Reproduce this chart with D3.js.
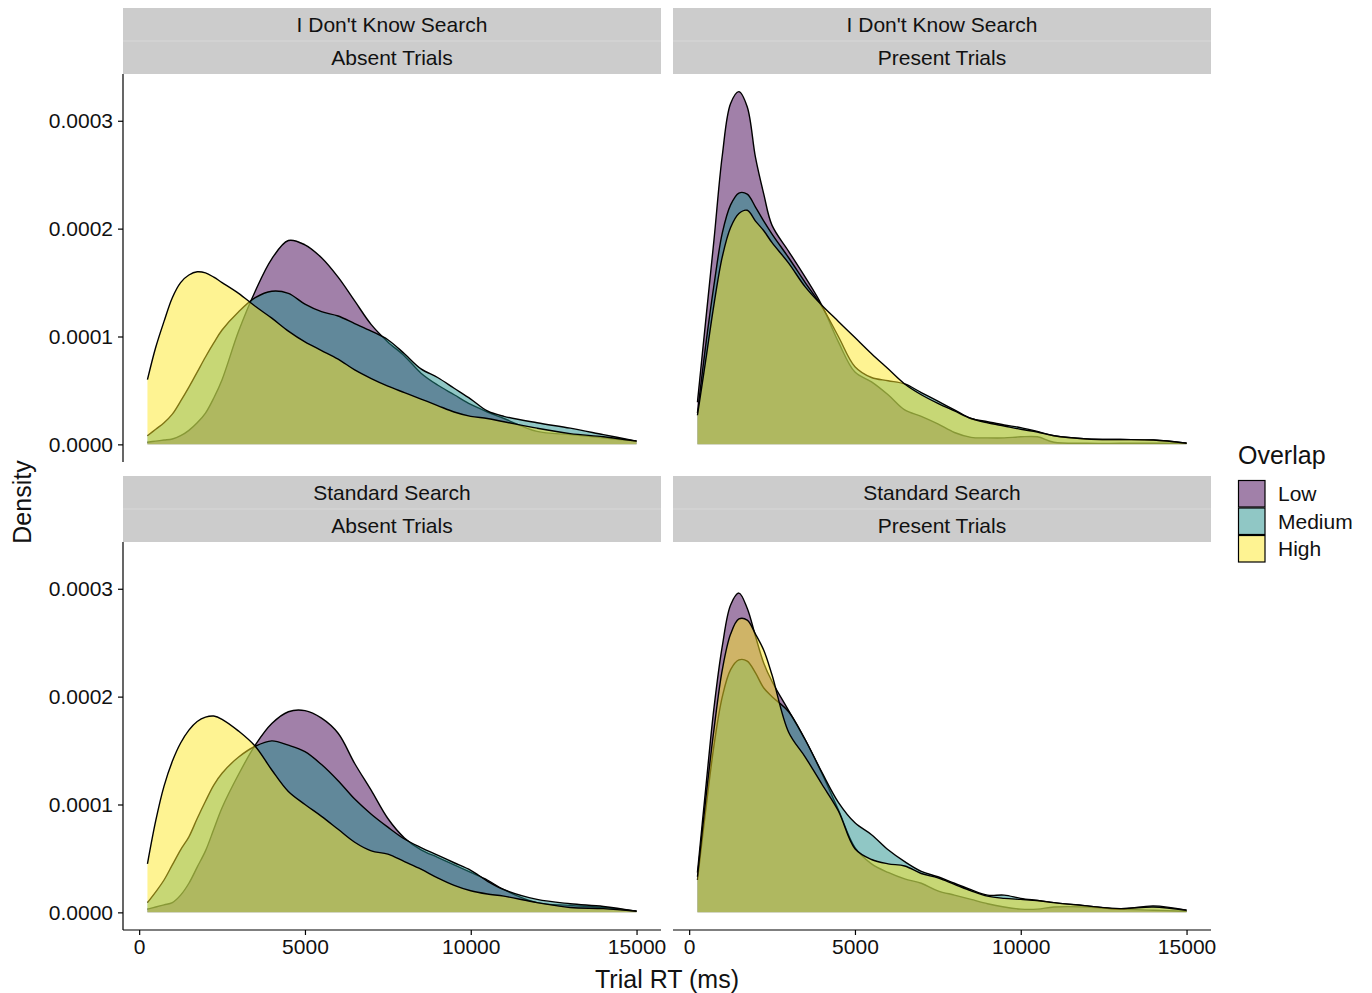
<!DOCTYPE html>
<html>
<head>
<meta charset="utf-8">
<script src="https://cdn.jsdelivr.net/npm/d3@7"></script>
<style>
  body { margin: 0; background: #fff; }
  text { font-family: "Liberation Sans", Arial, sans-serif; fill: #111; }
</style>
</head>
<body>
<div id="chart"></div>
<script>
// trial RT grid (ms) the densities were read at
var rt = [250, 500, 750, 1000, 1250, 1500, 1750, 2000, 2250, 2500, 3000, 3500, 4000, 4500, 5000,
          5500, 6000, 6500, 7000, 7500, 8000, 8500, 9000, 9500, 10000, 10500, 11000, 12000, 13000, 14000, 15000];

// density values, in units of 1e-4
var idkAbsentLow    = [0.02, 0.03, 0.04, 0.05, 0.08, 0.13, 0.20, 0.29, 0.43, 0.60, 1.05, 1.42, 1.72, 1.89, 1.85,
                       1.73, 1.55, 1.33, 1.11, 0.95, 0.82, 0.66, 0.55, 0.46, 0.37, 0.30, 0.24, 0.12, 0.09, 0.06, 0.03];
var idkAbsentMedium = [0.08, 0.14, 0.20, 0.28, 0.40, 0.53, 0.67, 0.81, 0.94, 1.06, 1.23, 1.36, 1.42, 1.40, 1.30,
                       1.23, 1.19, 1.12, 1.05, 0.97, 0.84, 0.70, 0.62, 0.52, 0.42, 0.31, 0.26, 0.20, 0.15, 0.09, 0.03];
var idkAbsentHigh   = [0.60, 0.90, 1.14, 1.36, 1.50, 1.57, 1.60, 1.59, 1.55, 1.50, 1.40, 1.28, 1.17, 1.05, 0.95,
                       0.87, 0.79, 0.69, 0.61, 0.54, 0.48, 0.42, 0.36, 0.30, 0.26, 0.24, 0.21, 0.15, 0.10, 0.07, 0.03];

var idkPresentLow    = [0.39, 1.15, 1.90, 2.68, 3.16, 3.27, 3.13, 2.66, 2.32, 2.03, 1.79, 1.55, 1.29, 0.95, 0.67,
                        0.58, 0.46, 0.32, 0.26, 0.19, 0.11, 0.065, 0.06, 0.06, 0.07, 0.07, 0.02, 0.01, 0.01, 0.01, 0.01];
var idkPresentMedium = [0.29, 0.92, 1.48, 1.96, 2.22, 2.33, 2.32, 2.20, 2.07, 1.95, 1.73, 1.50, 1.28, 1.00, 0.72,
                        0.62, 0.59, 0.56, 0.48, 0.40, 0.32, 0.24, 0.21, 0.18, 0.155, 0.12, 0.08, 0.05, 0.045, 0.04, 0.01];
var idkPresentHigh   = [0.27, 0.78, 1.30, 1.74, 2.01, 2.14, 2.17, 2.07, 1.98, 1.87, 1.68, 1.46, 1.29, 1.14, 0.99,
                        0.84, 0.70, 0.56, 0.46, 0.38, 0.31, 0.24, 0.20, 0.17, 0.14, 0.115, 0.08, 0.05, 0.045, 0.04, 0.01];

var stdAbsentLow    = [0.03, 0.05, 0.07, 0.09, 0.16, 0.27, 0.42, 0.57, 0.77, 0.97, 1.28, 1.55, 1.75, 1.86, 1.87,
                       1.80, 1.66, 1.38, 1.13, 0.87, 0.69, 0.58, 0.51, 0.44, 0.37, 0.30, 0.21, 0.09, 0.065, 0.045, 0.01];
var stdAbsentMedium = [0.09, 0.19, 0.30, 0.44, 0.58, 0.70, 0.87, 1.03, 1.18, 1.29, 1.44, 1.54, 1.59, 1.55, 1.49,
                       1.37, 1.22, 1.05, 0.91, 0.79, 0.68, 0.60, 0.53, 0.46, 0.39, 0.29, 0.21, 0.12, 0.08, 0.055, 0.01];
var stdAbsentHigh   = [0.45, 0.85, 1.17, 1.40, 1.57, 1.69, 1.77, 1.81, 1.82, 1.79, 1.68, 1.54, 1.32, 1.12, 1.00,
                       0.89, 0.77, 0.65, 0.57, 0.54, 0.47, 0.40, 0.32, 0.25, 0.20, 0.17, 0.15, 0.09, 0.045, 0.035, 0.01];

var stdPresentLow    = [0.37, 1.15, 1.90, 2.47, 2.85, 2.96, 2.82, 2.56, 2.31, 2.14, 1.87, 1.60, 1.29, 0.95, 0.60,
                        0.45, 0.37, 0.31, 0.27, 0.20, 0.16, 0.12, 0.08, 0.05, 0.03, 0.03, 0.05, 0.05, 0.03, 0.02, 0.01];
var stdPresentMedium = [0.30, 0.95, 1.55, 2.00, 2.25, 2.34, 2.33, 2.22, 2.08, 2.00, 1.86, 1.60, 1.30, 1.02, 0.83,
                        0.72, 0.58, 0.47, 0.38, 0.33, 0.27, 0.21, 0.16, 0.16, 0.13, 0.11, 0.09, 0.06, 0.03, 0.06, 0.02];
var stdPresentHigh   = [0.33, 1.05, 1.70, 2.25, 2.58, 2.72, 2.71, 2.58, 2.43, 2.20, 1.67, 1.44, 1.19, 0.94, 0.59,
                        0.49, 0.45, 0.43, 0.36, 0.32, 0.26, 0.20, 0.15, 0.13, 0.12, 0.11, 0.09, 0.06, 0.035, 0.05, 0.02];

var overlapLevels  = ["Low", "Medium", "High"];
var overlapColours = ["#440154", "#21908C", "#FDE725"];
var searchLabels   = ["I Don't Know Search", "Standard Search"];
var trialLabels    = ["Absent Trials", "Present Trials"];
var xTicks = [0, 5000, 10000, 15000];
var yTicks = [0, 1, 2, 3];

var panels = [
  {row: 0, col: 0, series: [idkAbsentLow, idkAbsentMedium, idkAbsentHigh]},
  {row: 0, col: 1, series: [idkPresentLow, idkPresentMedium, idkPresentHigh]},
  {row: 1, col: 0, series: [stdAbsentLow, stdAbsentMedium, stdAbsentHigh]},
  {row: 1, col: 1, series: [stdPresentLow, stdPresentMedium, stdPresentHigh]}
];

var totalWidth = 1372, totalHeight = 993;
var panelLeft = [123, 673], panelWidth = 538;
var stripTop = [8, 476], stripRow = 33, plotHeight = 388;

var svg = d3.select("#chart").append("svg")
    .attr("width", totalWidth)
    .attr("height", totalHeight);

// ggplot-style 5% expansion of the data range
var xMin = d3.min(rt), xMax = d3.max(rt), xPad = (xMax - xMin) * 0.05;
var x = d3.scaleLinear()
    .domain([xMin - xPad, xMax + xPad])
    .range([0, panelWidth]);

var yMax = d3.max(panels, function(p) { return d3.max(p.series, function(s) { return d3.max(s); }); });
var y = d3.scaleLinear()
    .domain([-yMax * 0.05, yMax * 1.05])
    .range([plotHeight, 0]);

var curve = d3.curveCatmullRom.alpha(0.5);

var area = d3.area()
    .x(function(d) { return x(d[0]); })
    .y0(y(0))
    .y1(function(d) { return y(d[1]); })
    .curve(curve);

var line = d3.line()
    .x(function(d) { return x(d[0]); })
    .y(function(d) { return y(d[1]); })
    .curve(curve);

panels.forEach(function(p) {
  var left = panelLeft[p.col], top = stripTop[p.row];

  // strips
  var strip = svg.append("g").attr("transform", "translate(" + left + "," + top + ")");
  [searchLabels[p.row], trialLabels[p.col]].forEach(function(label, i) {
    strip.append("rect")
      .attr("y", i * stripRow)
      .attr("width", panelWidth)
      .attr("height", stripRow)
      .attr("fill", "#cccccc");
    strip.append("text")
      .attr("x", panelWidth / 2)
      .attr("y", i * stripRow + stripRow / 2)
      .attr("dy", "0.36em")
      .attr("text-anchor", "middle")
      .style("font-size", "21px")
      .text(label);
  });
  strip.append("line")
    .attr("x1", 0).attr("x2", panelWidth)
    .attr("y1", stripRow).attr("y2", stripRow)
    .attr("stroke", "#d8d8d8").attr("stroke-width", 1);

  var g = svg.append("g")
    .attr("transform", "translate(" + left + "," + (top + 2 * stripRow) + ")");

  // each group: fill then upper outline, Low first, High on top
  p.series.forEach(function(values, i) {
    var pts = rt.map(function(t, j) { return [t, values[j]]; });
    g.append("path")
      .datum(pts)
      .attr("d", area)
      .attr("fill", overlapColours[i])
      .attr("fill-opacity", 0.5);
    g.append("path")
      .datum(pts)
      .attr("d", line)
      .attr("fill", "none")
      .attr("stroke", "#000")
      .attr("stroke-width", 1.4);
  });

  if (p.col === 0) {
    var yAxis = g.append("g")
      .call(d3.axisLeft(y).tickValues(yTicks).tickSize(5).tickPadding(5)
        .tickFormat(function(d) { return (d * 1e-4).toFixed(4); }));
    yAxis.select(".domain").attr("d", "M0,0V" + plotHeight);
    yAxis.selectAll("text").style("font-size", "21px").attr("fill", "#111");
    yAxis.selectAll("line, .domain").attr("stroke", "#000").attr("stroke-width", 1.2);
  }
  if (p.row === 1) {
    var xAxis = g.append("g")
      .attr("transform", "translate(0," + plotHeight + ")")
      .call(d3.axisBottom(x).tickValues(xTicks).tickSize(5).tickPadding(4)
        .tickFormat(d3.format("d")));
    xAxis.select(".domain").attr("d", "M0,0H" + panelWidth);
    xAxis.selectAll("text").style("font-size", "21px").attr("fill", "#111");
    xAxis.selectAll("line, .domain").attr("stroke", "#000").attr("stroke-width", 1.2);
  }
});

svg.selectAll(".tick text").style("font-family", "'Liberation Sans', Arial, sans-serif");

// axis titles
svg.append("text")
  .attr("x", (panelLeft[0] + panelLeft[1] + panelWidth) / 2)
  .attr("y", 988)
  .attr("text-anchor", "middle")
  .style("font-size", "25px")
  .text("Trial RT (ms)");

svg.append("text")
  .attr("transform", "translate(31,502) rotate(-90)")
  .attr("text-anchor", "middle")
  .style("font-size", "25px")
  .text("Density");

// legend
var legend = svg.append("g").attr("transform", "translate(1238,480)");
legend.append("text")
  .attr("x", 0).attr("y", -16)
  .style("font-size", "25px")
  .text("Overlap");
var key = 27.5;
overlapLevels.forEach(function(level, i) {
  legend.append("rect")
    .attr("x", 0.5).attr("y", i * key + 0.5)
    .attr("width", key - 1).attr("height", key - 1)
    .attr("fill", overlapColours[i])
    .attr("fill-opacity", 0.5)
    .attr("stroke", "#000")
    .attr("stroke-width", 1.2);
  legend.append("text")
    .attr("x", 40)
    .attr("y", i * key + key / 2)
    .attr("dy", "0.36em")
    .style("font-size", "21px")
    .text(level);
});
</script>
</body>
</html>
